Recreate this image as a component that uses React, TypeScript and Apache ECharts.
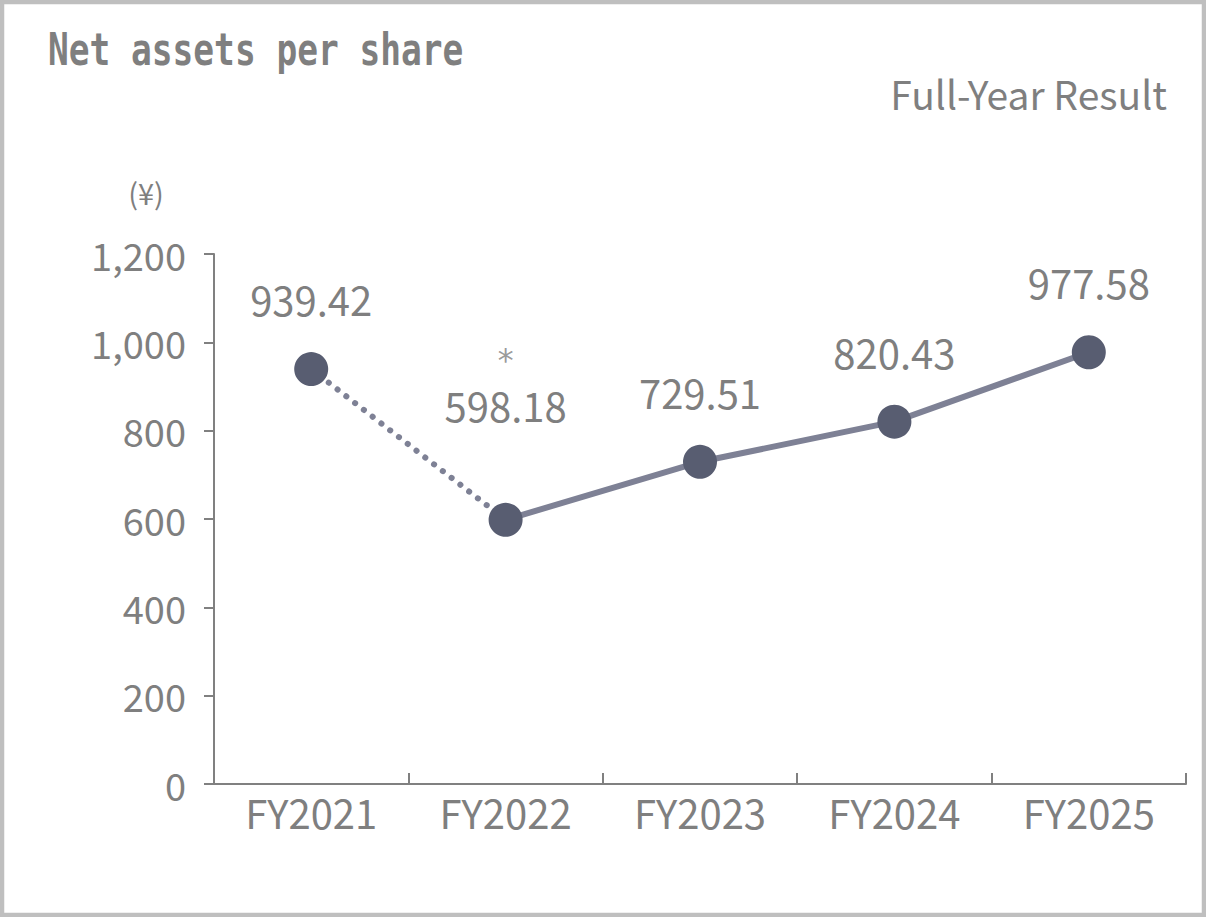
import React, { useEffect, useRef } from "react";
import * as echarts from "echarts";

// Net assets per share (yen), fiscal years
const categories = ["FY2021", "FY2022", "FY2023", "FY2024", "FY2025"];
const netAssetsPerShare = [939.42, 598.18, 729.51, 820.43, 977.58];
// FY2022 figure carries a footnote mark; the segment leading to it is dotted
const footnoteIndex = 1;
const footnoteMark = "*";
const yMin = 0;
const yMax = 1200;
const yInterval = 200;

const TEXT = "#7f7f7f";
const AXIS = "#808080";
const LINE = "#7e8195";
const MARKER = "#585d71";
const SANS = '"Noto Sans CJK JP", "Noto Sans", sans-serif';
const MONO = '"DejaVu Sans Mono", monospace';

export default function App() {
  const ref = useRef<HTMLDivElement>(null);

  useEffect(() => {
    if (!ref.current) return;
    const chart = echarts.init(ref.current, undefined, { renderer: "svg" });

    const dotted = netAssetsPerShare.map((v, i) => (i <= footnoteIndex ? v : "-"));
    const solid = netAssetsPerShare.map((v, i) => (i >= footnoteIndex ? v : "-"));
    const markers = netAssetsPerShare.map((v, i) =>
      i === footnoteIndex ? { value: v, label: { distance: 78 } } : { value: v }
    );
    const footnote = netAssetsPerShare.map((v, i) => (i === footnoteIndex ? v : "-"));

    chart.setOption({
      animation: false,
      backgroundColor: "#ffffff",
      grid: { left: 214, right: 20, top: 254, bottom: 133, containLabel: false },
      xAxis: {
        type: "category",
        data: categories,
        boundaryGap: true,
        axisLine: { show: true, lineStyle: { color: AXIS, width: 2 } },
        axisTick: { show: true, inside: true, length: 11, interval: 0, lineStyle: { color: AXIS, width: 2 } },
        axisLabel: { color: TEXT, fontFamily: SANS, fontSize: 40, margin: 8, interval: 0 },
        splitLine: { show: false },
      },
      yAxis: {
        type: "value",
        min: yMin,
        max: yMax,
        interval: yInterval,
        axisLine: { show: true, lineStyle: { color: AXIS, width: 2 } },
        axisTick: { show: true, inside: false, length: 10, lineStyle: { color: AXIS, width: 2 } },
        axisLabel: {
          color: TEXT,
          fontFamily: SANS,
          fontSize: 38,
          margin: 28,
          formatter: (v: number) => v.toLocaleString("en-US"),
        },
        splitLine: { show: false },
      },
      series: [
        {
          type: "line",
          data: dotted,
          showSymbol: false,
          symbol: "none",
          lineStyle: { color: LINE, width: 6, type: [0.1, 11], cap: "round" },
          z: 2,
        },
        {
          type: "line",
          data: solid,
          showSymbol: false,
          symbol: "none",
          lineStyle: { color: LINE, width: 6 },
          z: 2,
        },
        {
          type: "scatter",
          data: markers,
          symbol: "circle",
          symbolSize: 34,
          itemStyle: { color: MARKER, opacity: 1 },
          z: 3,
          label: {
            show: true,
            position: "top",
            distance: 33,
            color: TEXT,
            fontFamily: SANS,
            fontSize: 40,
            formatter: (p: any) => Number(p.value).toFixed(2),
          },
        },
        {
          // footnote mark above the FY2022 value
          type: "scatter",
          data: footnote,
          symbol: "circle",
          symbolSize: 34,
          itemStyle: { color: "rgba(0,0,0,0)" },
          silent: true,
          z: 1,
          label: {
            show: true,
            position: "top",
            distance: 127,
            color: TEXT,
            fontFamily: MONO,
            fontSize: 32,
            formatter: () => footnoteMark,
          },
        },
      ],
      graphic: [
        {
          type: "rect",
          shape: { x: 2, y: 2, width: 1202, height: 913 },
          style: { fill: "none", stroke: "#bfbfbf", lineWidth: 4.5 },
          silent: true,
        },
        {
          type: "text",
          x: 48,
          y: 49,
          scaleY: 1.3,
          style: {
            text: "Net assets per share",
            fill: TEXT,
            fontFamily: MONO,
            fontWeight: "bold",
            fontSize: 34.5,
            textAlign: "left",
            textVerticalAlign: "middle",
          },
        },
        {
          type: "text",
          x: 1167,
          y: 93,
          style: {
            text: "Full-Year Result",
            fill: TEXT,
            fontFamily: SANS,
            fontSize: 39,
            textAlign: "right",
            textVerticalAlign: "middle",
          },
        },
        {
          type: "text",
          x: 146,
          y: 192,
          style: {
            text: "(¥)",
            fill: TEXT,
            fontFamily: SANS,
            fontSize: 29,
            textAlign: "center",
            textVerticalAlign: "middle",
          },
        },
      ],
    });

    return () => chart.dispose();
  }, []);

  return (
    <div
      ref={ref}
      style={{ position: "fixed", left: 0, top: 0, width: 1206, height: 917, background: "#fff" }}
    />
  );
}
